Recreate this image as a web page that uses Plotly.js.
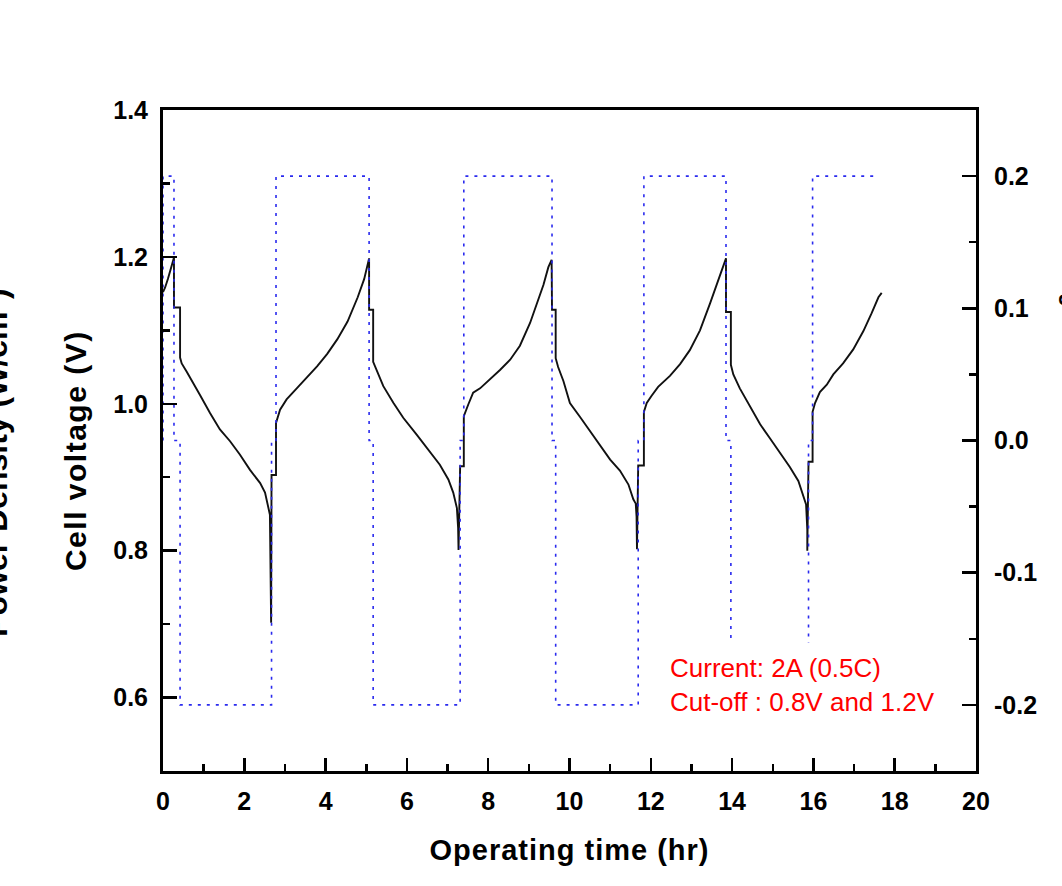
<!DOCTYPE html>
<html>
<head>
<meta charset="utf-8">
<script src="https://cdn.plot.ly/plotly-3.0.1.min.js"></script>
<style>
  html, body { margin: 0; padding: 0; background: #fff; }
  #chart { width: 1062px; height: 886px; }
  /* slightly tracked-out axis titles */
  #chart .xtitle { letter-spacing: 1px; }
  #chart g.annotation[data-index="1"] text { letter-spacing: 1.5px; }
</style>
</head>
<body>
<div id="chart"></div>
<script>
// Cell voltage during galvanostatic charge/discharge cycling (left axis)
const timeHr = [
  0.00, 0.05, 0.12, 0.20, 0.27, 0.27, 0.42, 0.42,
  0.46, 0.58, 0.75, 0.91, 1.16, 1.40, 1.65, 1.89, 2.14, 2.39, 2.51, 2.57, 2.63, 2.66,
  2.67, 2.78, 2.78, 2.88, 3.04, 3.29, 3.54, 3.79, 4.04, 4.29, 4.54, 4.79, 4.95, 5.07,
  5.07, 5.17, 5.17,
  5.26, 5.42, 5.67, 5.91, 6.24, 6.57, 6.81, 7.02, 7.14, 7.23, 7.26, 7.27,
  7.31, 7.40, 7.40, 7.51, 7.63, 7.80, 8.04, 8.29, 8.54, 8.78, 9.03, 9.27, 9.36, 9.48, 9.56,
  9.57, 9.66, 9.66,
  9.72, 9.85, 10.01, 10.26, 10.50, 10.75, 11.00, 11.24, 11.45, 11.57, 11.63, 11.65, 11.66,
  11.69, 11.83, 11.83, 11.90, 12.02, 12.18, 12.47, 12.72, 12.96, 13.21, 13.46, 13.62, 13.78, 13.85,
  13.85, 13.97, 13.97,
  14.03, 14.19, 14.44, 14.69, 14.93, 15.18, 15.42, 15.63, 15.75, 15.82, 15.85, 15.85,
  15.88, 15.98, 15.98, 16.04, 16.16, 16.33, 16.49, 16.73, 16.98, 17.23, 17.43, 17.60, 17.68
];
const cellVoltage = [
  1.152, 1.158, 1.170, 1.185, 1.199, 1.131, 1.131, 1.063,
  1.055, 1.044, 1.028, 1.012, 0.987, 0.965, 0.949, 0.931, 0.910, 0.892, 0.879, 0.865, 0.849, 0.702,
  0.903, 0.903, 0.974, 0.992, 1.006, 1.021, 1.036, 1.051, 1.068, 1.088, 1.112, 1.145, 1.170, 1.198,
  1.128, 1.128, 1.057,
  1.046, 1.024, 1.001, 0.981, 0.958, 0.935, 0.917, 0.897, 0.879, 0.858, 0.831, 0.801,
  0.915, 0.915, 0.983, 0.999, 1.015, 1.021, 1.033, 1.046, 1.060, 1.079, 1.110, 1.147, 1.162, 1.186, 1.196,
  1.128, 1.128, 1.062,
  1.050, 1.031, 1.001, 0.982, 0.963, 0.943, 0.924, 0.909, 0.890, 0.870, 0.864, 0.846, 0.802,
  0.916, 0.916, 0.989, 1.001, 1.011, 1.023, 1.038, 1.054, 1.073, 1.100, 1.137, 1.163, 1.186, 1.198,
  1.125, 1.125, 1.053,
  1.040, 1.021, 0.997, 0.972, 0.953, 0.933, 0.914, 0.895, 0.875, 0.863, 0.829, 0.800,
  0.921, 0.921, 0.989, 1.001, 1.016, 1.026, 1.040, 1.055, 1.074, 1.099, 1.123, 1.145, 1.151
];

// Applied current (right axis)
const currentTime = [
  0, 0, 0.27, 0.27, 0.42, 0.42, 2.67, 2.67, 2.78, 2.78,
  5.07, 5.07, 5.17, 5.17, 7.31, 7.31, 7.40, 7.40,
  9.57, 9.57, 9.66, 9.66, 11.69, 11.69, 11.83, 11.83,
  13.85, 13.85, 13.97, 13.97, 15.88, 15.88, 15.98, 15.98, 17.60
];
const currentValue = [
  0, 0.2, 0.2, 0, 0, -0.2, -0.2, 0, 0, 0.2,
  0.2, 0, 0, -0.2, -0.2, 0, 0, 0.2,
  0.2, 0, 0, -0.2, -0.2, 0, 0, 0.2,
  0.2, 0, 0, -0.2, -0.2, 0, 0, 0.2, 0.2
];

// Axis ticks
const xTickVals = [0, 2, 4, 6, 8, 10, 12, 14, 16, 18, 20];
const yTickVals = [0.6, 0.8, 1.0, 1.2, 1.4];
const yTickText = ['0.6', '0.8', '1.0', '1.2', '1.4'];
const y2TickVals = [-0.2, -0.1, 0.0, 0.1, 0.2];
const y2TickText = ['-0.2', '-0.1', '0.0', '0.1', '0.2'];

const FONT = 'Liberation Sans, Arial, Helvetica, sans-serif';
const tickFont = { family: FONT, size: 25, color: '#000', weight: 'bold' };

const traces = [
  {
    x: timeHr, y: cellVoltage, type: 'scatter', mode: 'lines', yaxis: 'y',
    line: { color: '#111111', width: 1.9 }, hoverinfo: 'skip', showlegend: false
  },
  {
    x: currentTime, y: currentValue, type: 'scatter', mode: 'lines', yaxis: 'y2',
    line: { color: '#2a2aee', width: 1.6, dash: '3px,6px' }, hoverinfo: 'skip', showlegend: false
  }
];

const layout = {
  width: 1062, height: 886,
  margin: { l: 163, r: 86, t: 110, b: 115, pad: 0 },
  paper_bgcolor: '#ffffff', plot_bgcolor: '#ffffff',
  showlegend: false,
  xaxis: {
    range: [0, 20], tickmode: 'array', tickvals: xTickVals,
    ticks: 'inside', ticklen: 13, tickwidth: 2.5, tickcolor: '#000',
    minor: { ticks: 'inside', ticklen: 7, tickwidth: 2.5, tickcolor: '#000', dtick: 1, tick0: 0, showgrid: false },
    showline: true, linecolor: '#000', linewidth: 3, mirror: true,
    showgrid: false, zeroline: false, tickfont: tickFont, ticklabelstandoff: 6,
    title: { text: 'Operating time (hr)', font: { family: FONT, size: 29, color: '#000', weight: 'bold' }, standoff: 26 },
    automargin: false
  },
  yaxis: {
    range: [0.5, 1.4], tickmode: 'array', tickvals: yTickVals, ticktext: yTickText,
    ticks: 'inside', ticklen: 14, tickwidth: 2.5, tickcolor: '#000',
    minor: { ticks: 'inside', ticklen: 7, tickwidth: 2.5, tickcolor: '#000', dtick: 0.1, tick0: 0.5, showgrid: false },
    showline: true, linecolor: '#000', linewidth: 3,
    showgrid: false, zeroline: false, tickfont: tickFont, ticklabelstandoff: 7,
    automargin: false
  },
  yaxis2: {
    overlaying: 'y', side: 'right',
    range: [-0.25, 0.25], tickmode: 'array', tickvals: y2TickVals, ticktext: y2TickText,
    ticks: 'inside', ticklen: 14, tickwidth: 2.5, tickcolor: '#000',
    minor: { ticks: 'inside', ticklen: 7, tickwidth: 2.5, tickcolor: '#000', dtick: 0.05, tick0: 0, showgrid: false },
    showline: true, linecolor: '#000', linewidth: 3,
    showgrid: false, zeroline: false, tickfont: tickFont, ticklabelstandoff: 10,
    automargin: false
  },
  shapes: [
    // white backing behind the test-condition note
    { type: 'rect', xref: 'paper', yref: 'paper', x0: 0.605, x1: 0.97, y0: 0.07, y1: 0.194,
      fillcolor: '#ffffff', line: { width: 0 }, layer: 'above' }
  ],
  annotations: [
    {
      xref: 'paper', yref: 'paper', x: 0.6212, y: 0.181, xanchor: 'left', yanchor: 'top',
      align: 'left', showarrow: false,
      text: 'Current: 2A (0.5C)<br>Cut-off : 0.8V and 1.2V',
      font: { family: FONT, size: 26, color: '#ff0000' }
    },
    {
      // left axis title
      xref: 'paper', yref: 'paper', x: -0.1082, y: 0.4841, xanchor: 'center', yanchor: 'middle',
      textangle: -90, showarrow: false,
      text: 'Cell voltage (V)',
      font: { family: FONT, size: 30, color: '#000', weight: 'bold' }
    },
    {
      xref: 'paper', yref: 'paper', x: -0.208, y: 0.4675, xanchor: 'center', yanchor: 'middle',
      textangle: -90, showarrow: false,
      text: 'Power Density (W/cm<sup>2</sup>)',
      font: { family: FONT, size: 32, color: '#000', weight: 'bold' }
    },
    {
      xref: 'paper', yref: 'paper', x: 1.121, y: 0.4675, xanchor: 'center', yanchor: 'middle',
      textangle: -90, showarrow: false,
      text: 'Current density (A/cm<sup>2</sup>)',
      font: { family: FONT, size: 32, color: '#000', weight: 'bold' }
    }
  ]
};

Plotly.newPlot('chart', traces, layout, { staticPlot: true, displayModeBar: false });
</script>
</body>
</html>
